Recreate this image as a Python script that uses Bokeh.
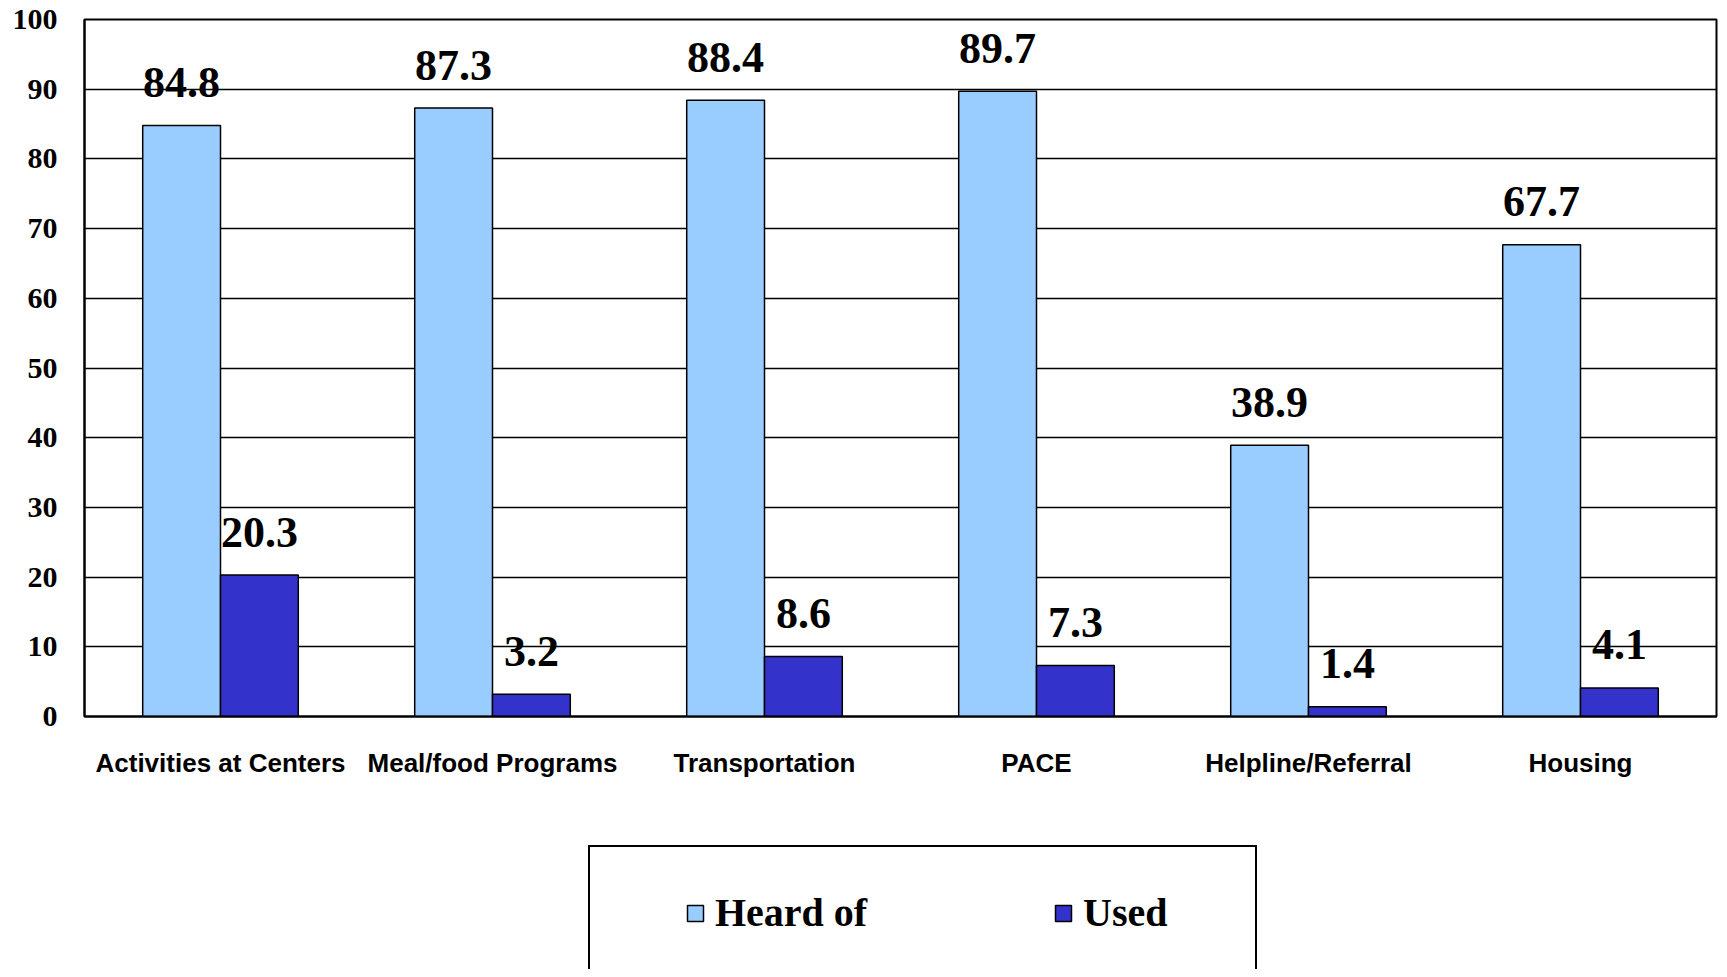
from bokeh.plotting import figure
from bokeh.models import (ColumnDataSource, FactorRange, Range1d, FixedTicker,
                          Legend, LegendItem)
from bokeh.layouts import column
from bokeh.transform import dodge
from bokeh.core.properties import value
from bokeh.embed import file_html
from bokeh.resources import INLINE

categories = ["Activities at Centers", "Meal/food Programs", "Transportation",
              "PACE", "Helpline/Referral", "Housing"]
heard_of = [84.8, 87.3, 88.4, 89.7, 38.9, 67.7]
used = [20.3, 3.2, 8.6, 7.3, 1.4, 4.1]
y_ticks = [0, 10, 20, 30, 40, 50, 60, 70, 80, 90, 100]
series_names = ["Heard of", "Used"]

HEARD_COLOR = "#99CCFF"
USED_COLOR = "#3333CC"

src = ColumnDataSource(dict(
    cat=categories, heard=heard_of, used=used,
    heard_txt=[f"{v:.1f}" for v in heard_of],
    used_txt=[f"{v:.1f}" for v in used],
))

W = 1719
H1 = 800
H2 = 169

p = figure(width=W, height=H1, output_backend="svg", toolbar_location=None,
           x_range=FactorRange(*categories, range_padding=0),
           y_range=Range1d(0, 100),
           min_border_left=84, min_border_right=3, min_border_top=19,
           min_border_bottom=84)

p.outline_line_color = "black"
p.outline_line_width = 2
p.background_fill_color = "white"

p.xgrid.grid_line_color = None
p.ygrid.grid_line_color = "black"
p.ygrid.grid_line_width = 1.5
p.ygrid.grid_line_alpha = 1

r1 = p.vbar(x=dodge("cat", -0.143, range=p.x_range), top="heard", width=0.286,
            source=src, fill_color=HEARD_COLOR, line_color="black", line_width=1.5)
r2 = p.vbar(x=dodge("cat", 0.143, range=p.x_range), top="used", width=0.286,
            source=src, fill_color=USED_COLOR, line_color="black", line_width=1.5)

for xoff, col in ((-0.143, "heard"), (0.143, "used")):
    p.text(x=dodge("cat", xoff, range=p.x_range), y=col, text=col + "_txt",
           source=src, text_align="center", text_baseline="alphabetic",
           y_offset=-43,
           text_font=value("Liberation Serif"), text_font_style="bold",
           text_font_size="44px", text_color="black")

p.yaxis.ticker = FixedTicker(ticks=y_ticks)
p.yaxis.axis_line_color = "black"
p.yaxis.axis_line_width = 2
p.yaxis.major_tick_out = 0
p.yaxis.major_tick_in = 0
p.yaxis.minor_tick_line_color = None
p.yaxis.major_label_standoff = 27
p.yaxis.major_label_text_font = "Liberation Serif"
p.yaxis.major_label_text_font_style = "bold"
p.yaxis.major_label_text_font_size = "30px"
p.yaxis.major_label_text_color = "black"

p.xaxis.axis_line_color = "black"
p.xaxis.axis_line_width = 2
p.xaxis.major_tick_out = 0
p.xaxis.major_tick_in = 0
p.xaxis.minor_tick_line_color = None
p.xaxis.major_label_standoff = 31
p.xaxis.major_label_text_font = "Liberation Sans"
p.xaxis.major_label_text_font_style = "bold"
p.xaxis.major_label_text_font_size = "26px"
p.xaxis.major_label_text_color = "black"

# ---- legend panel below the chart ----
q = figure(width=W, height=H2, output_backend="svg", toolbar_location=None,
           x_range=Range1d(0, 1), y_range=Range1d(0, 1),
           x_axis_location=None, y_axis_location=None,
           min_border_left=0, min_border_right=0, min_border_top=0,
           min_border_bottom=0)
q.outline_line_color = None
q.xgrid.grid_line_color = None
q.ygrid.grid_line_color = None

# legend key renderers (NaN data: nothing drawn, only the legend keys)
nan = float("nan")
keysrc = ColumnDataSource(dict(x=[nan], bottom=[nan], top=[nan]))
box_r = q.vbar(x="x", bottom="bottom", top="top", width=0.1, source=keysrc,
               fill_alpha=0, line_alpha=0)
lr1 = q.vbar(x="x", bottom="bottom", top="top", width=0.1, source=keysrc,
             fill_color=HEARD_COLOR, line_color="black", line_width=1.5)
lr2 = q.vbar(x="x", bottom="bottom", top="top", width=0.1, source=keysrc,
             fill_color=USED_COLOR, line_color="black", line_width=1.5)

box_legend = Legend(items=[LegendItem(label=" ", renderers=[box_r])],
                    location=(504, -11), padding=0, margin=0,
                    glyph_width=1, glyph_height=1, label_standoff=0,
                    label_width=664, label_height=131,
                    border_line_color="black", border_line_width=2,
                    border_line_alpha=1,
                    background_fill_color="white", background_fill_alpha=1)
q.add_layout(box_legend, "center")

legend = Legend(items=[LegendItem(label=series_names[0], renderers=[lr1]),
                       LegendItem(label=series_names[1], renderers=[lr2])],
                orientation="horizontal", location=(601, 33),
                padding=0, margin=0, spacing=0,
                glyph_width=20, glyph_height=20, label_standoff=10,
                label_width=338, label_height=46,
                label_text_font="Liberation Serif", label_text_font_style="bold",
                label_text_font_size="40px", label_text_color="black",
                border_line_alpha=0, background_fill_alpha=0)
q.add_layout(legend, "center")

layout = column(p, q, spacing=0)
open("out.html", "w").write(file_html(layout, INLINE))
